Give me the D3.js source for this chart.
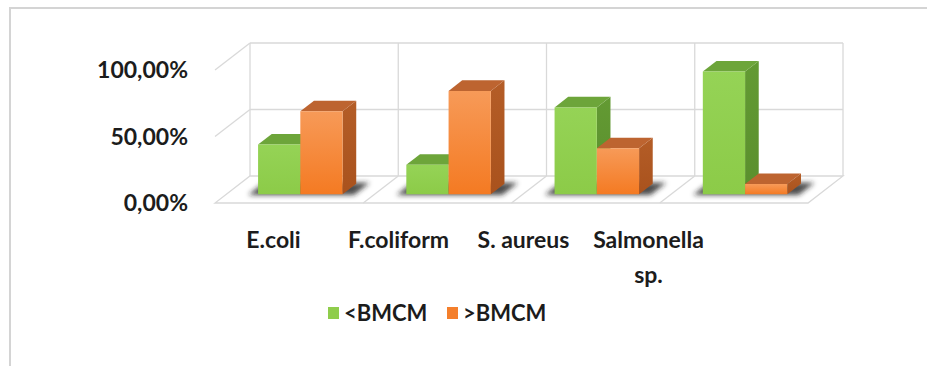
<!DOCTYPE html>
<html>
<head>
<meta charset="utf-8">
<script src="https://cdn.jsdelivr.net/npm/d3@7"></script>
<style>
  html, body { margin: 0; padding: 0; background: #fff; }
  svg { display: block; }
  text { font-family: Lato, "Open Sans", sans-serif; font-weight: 700; fill: #1c1c1c; }
</style>
</head>
<body>
<svg id="chart" width="927" height="366"></svg>
<script>
// Share of samples below / above the BMCM limit, per organism
const categories = ["E.coli", "F.coliform", "S. aureus", "Salmonella sp."];
const seriesNames = ["<BMCM", ">BMCM"];
const belowBMCM = [0.375, 0.222, 0.654, 0.923];
const aboveBMCM = [0.625, 0.778, 0.346, 0.077];
const yTickValues = [0, 0.5, 1];

const svg = d3.select("#chart");
const W = 927, H = 366;

// Decimal comma, as in the axis labels (100,00%)
const locale = d3.formatLocale({ decimal: ",", thousands: ".", grouping: [3], currency: ["", " €"] });
const pct = locale.format(".2%");

// Outer frame
svg.append("rect")
  .attr("x", 10).attr("y", 8).attr("width", W + 20).attr("height", H + 20)
  .attr("fill", "#fff").attr("stroke", "#d4d4d4").attr("stroke-width", 2);

// Oblique 3D projection: x/value on the back wall, t = depth (0 = back wall, 1 = front of floor)
const depthDX = -35, depthDY = 27;
const x = d3.scaleBand().domain(categories).range([250, 843]).paddingInner(0.43).paddingOuter(0.215);
const xs = d3.scaleBand().domain(seriesNames).range([0, x.bandwidth()]);
const y = d3.scaleLinear().domain([0, 1]).range([176, 43]);
const P = (px, v, t) => [px + t * depthDX, y(v) + t * depthDY];
const poly = pts => "M" + pts.map(p => p.join(",")).join("L") + "Z";

const step = x.step();
const x0 = x.range()[0], x1 = x.range()[1];
const bounds = d3.range(categories.length + 1).map(i => x0 + i * step);
const grid = "#d9d9d9";

const defs = svg.append("defs");
defs.append("filter").attr("id", "soft").attr("x", "-50%").attr("y", "-50%").attr("width", "200%").attr("height", "200%")
  .append("feGaussianBlur").attr("stdDeviation", 2.6);

function grad(id, c0, c1, vertical = true) {
  const g = defs.append("linearGradient").attr("id", id)
    .attr("x1", 0).attr("y1", 0).attr("x2", vertical ? 0 : 1).attr("y2", vertical ? 1 : 0);
  g.append("stop").attr("offset", "0%").attr("stop-color", c0);
  g.append("stop").attr("offset", "100%").attr("stop-color", c1);
}
grad("gFront", "#95d356", "#8ccb48");
grad("oFront", "#f79a58", "#f47a22");
grad("gSide", "#639a33", "#5a8f2d");
grad("oSide", "#b45d27", "#a9521d");

const palette = {
  "<BMCM": { front: "url(#gFront)", top: "#6da53a", side: "url(#gSide)", key: "#8fcd4c" },
  ">BMCM": { front: "url(#oFront)", top: "#bd6430", side: "url(#oSide)", key: "#f47f2c" }
};

// Back wall
const walls = svg.append("g").attr("fill", "none").attr("stroke", grid).attr("stroke-width", 1.3);
yTickValues.filter(v => v > 0).forEach(v => {
  walls.append("line").attr("x1", x0).attr("x2", x1).attr("y1", y(v)).attr("y2", y(v));
  // side wall
  const a = P(x0, v, 0), b = P(x0, v, 1);
  walls.append("line").attr("x1", a[0]).attr("y1", a[1]).attr("x2", b[0]).attr("y2", b[1]);
});
bounds.forEach(bx => {
  walls.append("line").attr("x1", bx).attr("x2", bx).attr("y1", y(0)).attr("y2", y(1));
});

// Floor
svg.append("path")
  .attr("d", poly([P(x0, 0, 0), P(x1, 0, 0), P(x1, 0, 1), P(x0, 0, 1)]))
  .attr("fill", "#fff").attr("stroke", grid).attr("stroke-width", 1.3);
bounds.slice(1, -1).forEach(bx => {
  const a = P(bx, 0, 0), b = P(bx, 0, 1);
  svg.append("line").attr("x1", a[0]).attr("y1", a[1]).attr("x2", b[0]).attr("y2", b[1])
    .attr("stroke", grid).attr("stroke-width", 1.3);
});

// Bars
const tBack = 0.29, tFront = 0.68;
const rows = categories.map((c, i) => ({ cat: c, values: [
  { s: seriesNames[0], v: belowBMCM[i] },
  { s: seriesNames[1], v: aboveBMCM[i] }
]}));

// soft shadows under each bar pair
const shadows = svg.append("g").attr("filter", "url(#soft)");
rows.forEach(r => {
  const a = x(r.cat) - 9, b = x(r.cat) + x.bandwidth() + 12;
  shadows.append("path")
    .attr("d", poly([P(a, 0, tFront + 0.02), P(b, 0, tFront + 0.02), P(b, 0, tBack - 0.04), P(a, 0, tBack - 0.04)]))
    .attr("fill", "#1e1e1e").attr("opacity", 0.8);
});

const bars = svg.append("g");
rows.forEach(r => {
  r.values.forEach(d => {
    const a = x(r.cat) + xs(d.s), b = a + xs.bandwidth();
    const col = palette[d.s];
    const g = bars.append("g");
    g.append("path").attr("d", poly([P(b, 0, tFront), P(b, 0, tBack), P(b, d.v, tBack), P(b, d.v, tFront)]))
      .attr("fill", col.side);
    g.append("path").attr("d", poly([P(a, d.v, tFront), P(b, d.v, tFront), P(b, d.v, tBack), P(a, d.v, tBack)]))
      .attr("fill", col.top);
    g.append("path").attr("d", poly([P(a, 0, tFront), P(b, 0, tFront), P(b, d.v, tFront), P(a, d.v, tFront)]))
      .attr("fill", col.front);
  });
});

// Value axis labels, placed at the front edge of the side wall
svg.append("g").selectAll("text").data(yTickValues).join("text")
  .attr("x", 188).attr("y", v => P(x0, v, 1)[1]).attr("dy", "0.36em")
  .attr("text-anchor", "end").attr("font-size", 23)
  .text(v => pct(v));

// Category labels
const xl = d3.scaleBand().domain(categories).range([211, 711]);
const catLabels = svg.append("g").selectAll("text").data(categories).join("text")
  .attr("x", c => xl(c) + xl.bandwidth() / 2).attr("y", 248)
  .attr("text-anchor", "middle").attr("font-size", 23);
catLabels.each(function (c) {
  const words = c === "Salmonella sp." ? ["Salmonella", "sp."] : [c];
  const t = d3.select(this);
  words.forEach((w, i) => t.append("tspan")
    .attr("x", xl(c) + xl.bandwidth() / 2).attr("dy", i === 0 ? 0 : 35).text(w));
});

// Legend
const legendX = d3.scaleOrdinal().domain(seriesNames).range([328, 447]);
const leg = svg.append("g").selectAll("g").data(seriesNames).join("g")
  .attr("transform", s => `translate(${legendX(s)},307)`);
leg.append("rect").attr("width", 11).attr("height", 12).attr("fill", s => palette[s].key);
leg.append("text").attr("x", 16).attr("y", 6).attr("dy", "0.36em").attr("font-size", 22).text(s => s);
</script>
</body>
</html>
